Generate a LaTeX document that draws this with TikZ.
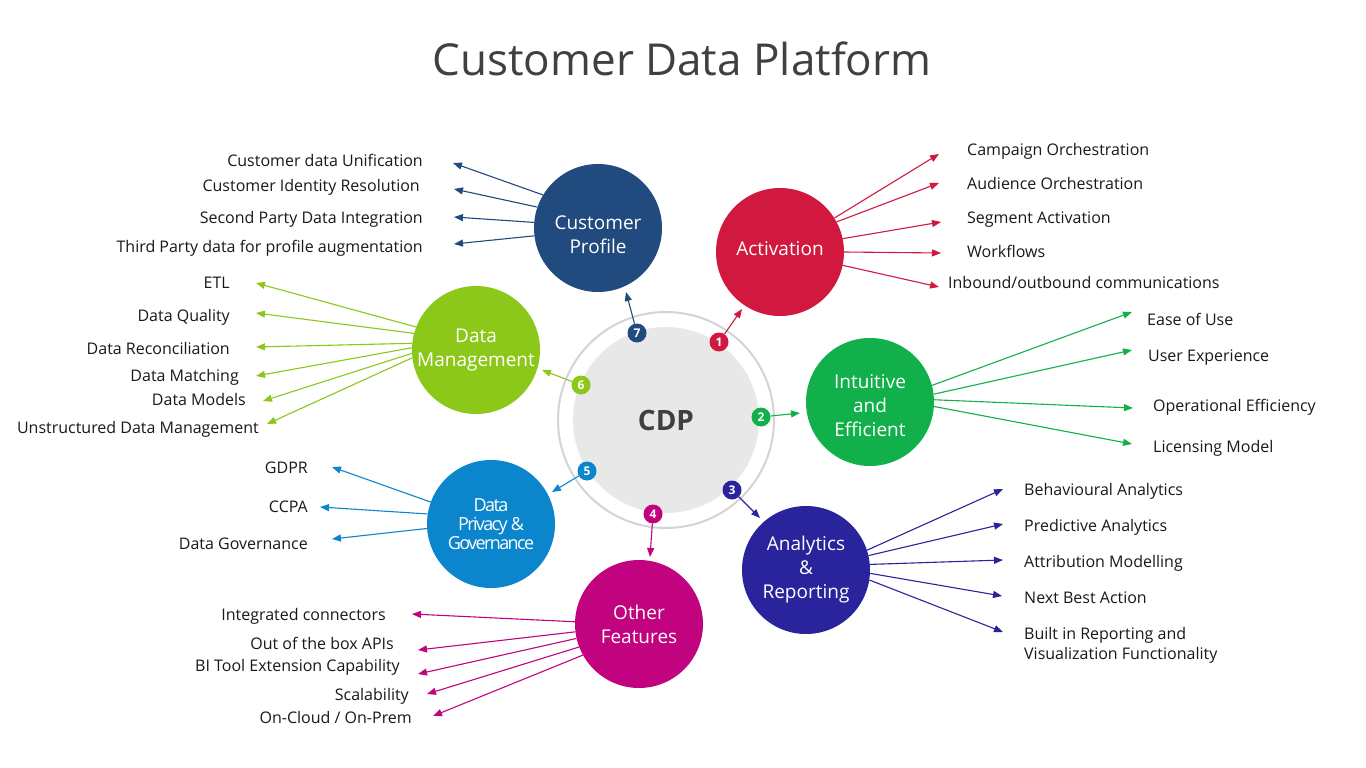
\documentclass[tikz,border=0pt]{standalone}
\usepackage{fontspec}
\setmainfont{Open Sans}
\newfontfamily\condfont{Open Sans}[LetterSpace=-9]
\usetikzlibrary{arrows.meta}
\definecolor{cpc}{RGB}{33,74,126}
\definecolor{actc}{RGB}{209,25,63}
\definecolor{intc}{RGB}{17,176,74}
\definecolor{anac}{RGB}{42,36,156}
\definecolor{othc}{RGB}{194,3,127}
\definecolor{dpc}{RGB}{11,133,203}
\definecolor{dmc}{RGB}{140,200,26}
\definecolor{discgray}{RGB}{232,232,232}
\definecolor{ringgray}{RGB}{212,212,212}
\definecolor{titlegray}{RGB}{64,64,64}
\definecolor{lblc}{RGB}{25,25,25}
\begin{document}
\begin{tikzpicture}[x=1pt,y=-1pt,
  hub/.style={circle, minimum size=128pt, inner sep=0pt, text=white, align=center, font=\fontsize{19}{24}\selectfont},
  hubtxt/.style={inner sep=0pt, text=white, align=center, font=\fontsize{19}{24}\selectfont},
  badge/.style={circle, minimum size=19pt, inner sep=0pt, text=white, font=\fontsize{12}{12}\selectfont\bfseries},
  lbl/.style={inner sep=0pt, text=lblc, font=\fontsize{16}{20}\selectfont},
  conn/.style={line width=1.1pt, -{Triangle[length=9pt,width=7pt]}}]
\fill[white] (0,0) rectangle (1366,768);
\useasboundingbox (0,0) rectangle (1366,768);

% title
\node[inner sep=0pt, text=titlegray, font=\fontsize{44}{50}\selectfont, anchor=base] (title) at (682,76) {Customer Data Platform};

% centre
\node[circle, minimum size=216pt, draw=ringgray, line width=2pt, inner sep=0pt] (ring) at (666,420) {};
\node[circle, minimum size=186pt, fill=discgray, inner sep=0pt, text=titlegray, font=\fontsize{28}{30}\selectfont\bfseries] (cdp) at (666,420) {CDP};

% hubs
\node[hub, fill=cpc] (cp) at (598,228) {};
\node[hubtxt] (cptxt) at (598,235) {Customer\\Profile};
\node[hub, fill=actc] (act) at (780,252) {};
\node[hubtxt] (acttxt) at (780,249) {Activation};
\node[hub, fill=intc] (int) at (870,402) {};
\node[hubtxt] (inttxt) at (870,406) {Intuitive\\and\\Efficient};
\node[hub, fill=anac] (ana) at (806,570) {Analytics\\\&\\Reporting};
\node[hub, fill=othc] (oth) at (639,624) {Other\\Features};
\node[hub, fill=dpc, font=\fontsize{18}{19}\condfont] (dp) at (491,524) {Data\\Privacy \&\\Governance};
\node[hub, fill=dmc] (dm) at (476,350) {Data\\Management};

% badges
\node[badge, fill=actc] (b1) at (719,342) {1};
\node[badge, fill=intc] (b2) at (761,417) {2};
\node[badge, fill=anac] (b3) at (732,490) {3};
\node[badge, fill=othc] (b4) at (653,514) {4};
\node[badge, fill=dpc] (b5) at (587,471) {5};
\node[badge, fill=dmc] (b6) at (581,385) {6};
\node[badge, fill=cpc] (b7) at (637,333) {7};
\coordinate (t1) at (742,309);
\coordinate (t2) at (800,413);
\coordinate (t3) at (760,518);
\coordinate (t4) at (650,557);
\coordinate (t5) at (552,492);
\coordinate (t6) at (542,370);
\coordinate (t7) at (626,292);
\draw[conn, actc] (b1) -- (t1);
\draw[conn, intc] (b2) -- (t2);
\draw[conn, anac] (b3) -- (t3);
\draw[conn, othc] (b4) -- (t4);
\draw[conn, dpc] (b5) -- (t5);
\draw[conn, dmc] (b6) -- (t6);
\draw[conn, cpc] (b7) -- (t7);

% Customer Profile
\foreach \ang/\tx/\ty/\lx/\ly/\txt [count=\i] in {
  149/453/163/423/166/{Customer data Unification},
  161/454/189/420/191/{Customer Identity Resolution},
  175/454/217/423/223/{Second Party Data Integration},
  187/454/244/423/252/{Third Party data for profile augmentation}}{
  \node[lbl, anchor=base east] (cpl\i) at (\lx,\ly) {\txt};
  \coordinate (cpt\i) at (\tx,\ty);
  \draw[conn, cpc] (cp.\ang) -- (cpt\i);
}

% Activation
\foreach \ang/\tx/\ty/\lx/\ly/\txt [count=\i] in {
  32/939/154/967/155/{Campaign Orchestration},
  28/939/183/967/189/{Audience Orchestration},
  12/941/222/967/223/{Segment Activation},
  0/941/253/967/257/{Workflows},
  -12/939/287/948/288/{Inbound/outbound communications}}{
  \node[lbl, anchor=base west] (actl\i) at (\lx,\ly) {\txt};
  \coordinate (actt\i) at (\tx,\ty);
  \draw[conn, actc] (act.\ang) -- (actt\i);
}

% Intuitive and Efficient
\foreach \ang/\tx/\ty/\lx/\ly/\txt [count=\i] in {
  15/1132/312/1147/325/{Ease of Use},
  7/1132/350/1148/361/{User Experience},
  2/1133/408/1153/411/{Operational Efficiency},
  -4/1132/444/1153/452/{Licensing Model}}{
  \node[lbl, anchor=base west] (intl\i) at (\lx,\ly) {\txt};
  \coordinate (intt\i) at (\tx,\ty);
  \draw[conn, intc] (int.\ang) -- (intt\i);
}

% Analytics & Reporting
\foreach \ang/\tx/\ty/\lx/\ly/\txt [count=\i] in {
  18/1003/489/1024/495/{Behavioural Analytics},
  13/1003/524/1024/531/{Predictive Analytics},
  5/1003/560/1024/567/{Attribution Modelling},
  -3/1002/596/1024/603/{Next Best Action}}{
  \node[lbl, anchor=base west] (anal\i) at (\lx,\ly) {\txt};
  \coordinate (anat\i) at (\tx,\ty);
  \draw[conn, anac] (ana.\ang) -- (anat\i);
}
\node[lbl, anchor=north west, align=left] (anal5) at (1024,627) {Built in Reporting and\\Visualization Functionality};
\coordinate (anat5) at (1003,632);
\draw[conn, anac] (ana.-9) -- (anat5);

% Other Features
\foreach \ang/\tx/\ty/\lx/\ly/\txt [count=\i] in {
  178/412/614/386/620/{Integrated connectors},
  187/418/650/394/649/{Out of the box APIs},
  193/418/674/400/671/{BI Tool Extension Capability},
  201/427/694/409/700/{Scalability},
  209/433/716/412/723/{On-Cloud / On-Prem}}{
  \node[lbl, anchor=base east] (othl\i) at (\lx,\ly) {\txt};
  \coordinate (otht\i) at (\tx,\ty);
  \draw[conn, othc] (oth.\ang) -- (otht\i);
}

% Data Privacy & Governance
\foreach \ang/\tx/\ty/\lx/\ly/\txt [count=\i] in {
  160/332/467/308/473/{GDPR},
  171/320/507/308/512/{CCPA},
  184/332/539/308/549/{Data Governance}}{
  \node[lbl, anchor=base east] (dpl\i) at (\lx,\ly) {\txt};
  \coordinate (dpt\i) at (\tx,\ty);
  \draw[conn, dpc] (dp.\ang) -- (dpt\i);
}

% Data Management
\foreach \ang/\tx/\ty/\lx/\ly/\txt [count=\i] in {
  159/256/283/230/288/{ETL},
  165/256/313/230/321/{Data Quality},
  174/256/347/230/354/{Data Reconciliation},
  178/256/376/239/381/{Data Matching},
  183/263/401/246/405/{Data Models},
  187/267/424/259/433/{Unstructured Data Management}}{
  \node[lbl, anchor=base east] (dml\i) at (\lx,\ly) {\txt};
  \coordinate (dmt\i) at (\tx,\ty);
  \draw[conn, dmc] (dm.\ang) -- (dmt\i);
}
\end{tikzpicture}
\end{document}
